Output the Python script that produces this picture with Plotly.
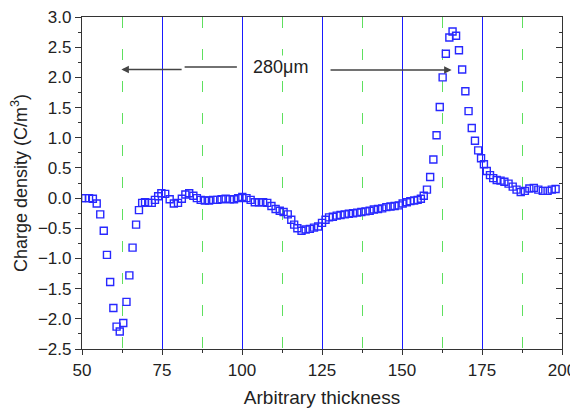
import plotly.graph_objects as go

# ---- data ----
thickness = [
    50.0, 51.0, 52.2, 53.4, 54.6, 55.7, 56.8, 57.8, 58.8, 59.8,
    60.8, 61.8, 62.9, 63.9, 64.8, 65.8, 66.9, 67.8, 68.8, 69.7,
    70.7, 71.8, 72.8, 73.8, 74.8, 76.0, 77.4, 78.7, 80.0, 81.2,
    82.3, 83.5, 84.8, 85.9, 87.1, 88.4, 89.7, 91.0, 92.3, 93.6,
    94.9, 96.2, 97.5, 98.8, 100.1, 101.4, 102.7, 104.0, 105.3, 106.6,
    107.9, 109.2, 110.5, 111.8, 113.0, 114.3, 115.4, 116.3, 117.3, 118.6,
    119.9, 121.2, 122.5, 123.8, 125.0, 126.1, 127.2, 128.4, 129.6, 130.8,
    132.1, 133.4, 134.7, 136.0, 137.3, 138.6, 139.9, 141.2, 142.5, 143.8,
    145.1, 146.4, 147.7, 149.0, 150.2, 151.5, 152.6, 153.8, 154.9, 155.9,
    156.8, 157.8, 158.8, 159.8, 160.8, 161.8, 162.7, 163.7, 164.8, 165.8,
    166.9, 167.8, 168.8, 169.8, 170.8, 171.8, 172.8, 173.8, 174.7, 175.6,
    176.5, 177.5, 178.5, 179.6, 180.8, 182.0, 183.3, 184.6, 185.8, 187.1,
    188.4, 189.8, 191.2, 192.6, 194.0, 195.5, 196.8, 198.0,
]
charge_density = [
    0.00, 0.00, 0.00, -0.01, -0.09, -0.27, -0.54, -0.94, -1.39, -1.82,
    -2.13, -2.21, -2.07, -1.72, -1.28, -0.82, -0.44, -0.20, -0.08, -0.07,
    -0.08, -0.08, -0.03, 0.03, 0.08, 0.07, -0.02, -0.09, -0.08, -0.01,
    0.06, 0.08, 0.04, 0.00, -0.03, -0.04, -0.04, -0.03, -0.03, -0.02,
    -0.01, -0.02, -0.02, 0.00, 0.02, 0.00, -0.03, -0.07, -0.07, -0.07,
    -0.08, -0.13, -0.18, -0.21, -0.23, -0.27, -0.36, -0.44, -0.50, -0.54,
    -0.52, -0.51, -0.49, -0.47, -0.41, -0.36, -0.32, -0.31, -0.29, -0.28,
    -0.27, -0.26, -0.25, -0.24, -0.23, -0.22, -0.21, -0.19, -0.18, -0.17,
    -0.15, -0.14, -0.13, -0.12, -0.09, -0.07, -0.05, -0.04, -0.03, -0.01,
    0.04, 0.14, 0.35, 0.64, 1.04, 1.51, 2.00, 2.39, 2.66, 2.76,
    2.69, 2.45, 2.13, 1.77, 1.44, 1.16, 0.95, 0.79, 0.66, 0.56,
    0.45, 0.38, 0.33, 0.30, 0.29, 0.27, 0.24, 0.19, 0.14, 0.10,
    0.12, 0.16, 0.17, 0.14, 0.12, 0.12, 0.14, 0.15,
]

x_range = [50, 200]
y_range = [-2.5, 3.0]
x_major_ticks = [50, 75, 100, 125, 150, 175, 200]
y_major_ticks = [3.0, 2.5, 2.0, 1.5, 1.0, 0.5, 0.0, -0.5, -1.0, -1.5, -2.0, -2.5]

label_text = "280\u03bcm"
label_pos = (111.9, 2.17)
left_arrow = (62.3, 81.6, 2.13)     # tip x, tail x, y
left_segment = (81.6, 98.4, 2.17)   # x0, x1, y
right_arrow = (165.5, 127.2, 2.12)  # tip x, tail x, y

FONT = "Liberation Sans, Arial, sans-serif"
TXT = "#222222"
AXC = "#333333"

fig = go.Figure()
fig.add_trace(go.Scatter(
    x=thickness, y=charge_density, mode="markers",
    marker=dict(symbol="square-open", size=7, color="rgb(40,40,255)",
                line=dict(width=1.4, color="rgb(40,40,255)")),
    showlegend=False, hoverinfo="skip",
))
# invisible trace so yaxis2 (right-side inward ticks) is drawn
fig.add_trace(go.Scatter(x=[None], y=[None], yaxis="y2", showlegend=False, hoverinfo="skip"))

# the page body adds an 8px offset; size the figure so the plot lands where the reference has it
fig.update_layout(
    template="none",
    width=570, height=404,
    margin=dict(l=74, r=16, t=9, b=63),
    paper_bgcolor="white", plot_bgcolor="white",
    font=dict(family=FONT, color=TXT, size=16),
    xaxis=dict(
        range=x_range, tickvals=x_major_ticks, ticks="outside", ticklen=5,
        tickcolor=AXC, tickwidth=1, automargin=False, ticklabeloverflow="allow",
        showline=True, linecolor=AXC, linewidth=1.3, mirror=True,
        showgrid=True, gridcolor="#1a1aff", gridwidth=1, zeroline=False,
        minor=dict(dtick=12.5, ticks="outside", ticklen=3, tickcolor=AXC,
                   showgrid=True, gridcolor="#5ee05e", gridwidth=1,
                   griddash="11px,21px"),
        tickfont=dict(size=17),
        title=dict(text="Arbitrary thickness", font=dict(size=19), standoff=12),
    ),
    yaxis=dict(
        range=y_range, tickvals=y_major_ticks, tickformat=".1f",
        ticks="outside", ticklen=6, tickcolor=AXC, automargin=False,
        ticklabeloverflow="allow",
        showline=True, linecolor=AXC, linewidth=1.3, mirror=True,
        showgrid=False, zeroline=False,
        minor=dict(dtick=0.25, ticks="outside", ticklen=3, tickcolor=AXC, showgrid=False),
        tickfont=dict(size=17),
        title=dict(text="Charge density (C/m<sup>3</sup>)", font=dict(size=18), standoff=10),
    ),
    yaxis2=dict(
        range=y_range, overlaying="y", side="right", tickvals=y_major_ticks,
        ticks="inside", ticklen=6, tickcolor=AXC, showticklabels=False, automargin=False,
        showline=False, showgrid=False, zeroline=False,
        minor=dict(dtick=0.25, ticks="inside", ticklen=3, tickcolor=AXC, showgrid=False),
    ),
)

fig.add_annotation(x=label_pos[0], y=label_pos[1], text=label_text, showarrow=False,
                   font=dict(size=18, color=TXT), bgcolor="white", xref="x", yref="y")
fig.add_annotation(x=left_arrow[0], y=left_arrow[2], ax=left_arrow[1], ay=left_arrow[2],
                   xref="x", yref="y", axref="x", ayref="y", text="", showarrow=True,
                   arrowhead=2, arrowsize=1, arrowwidth=1.5, arrowcolor="#444444")
fig.add_annotation(x=left_segment[1], y=left_segment[2], ax=left_segment[0], ay=left_segment[2],
                   xref="x", yref="y", axref="x", ayref="y", text="", showarrow=True,
                   arrowhead=0, arrowwidth=1.5, arrowcolor="#444444")
fig.add_annotation(x=right_arrow[0], y=right_arrow[2], ax=right_arrow[1], ay=right_arrow[2],
                   xref="x", yref="y", axref="x", ayref="y", text="", showarrow=True,
                   arrowhead=2, arrowsize=1, arrowwidth=1.5, arrowcolor="#444444")

fig.write_html("out.html")
